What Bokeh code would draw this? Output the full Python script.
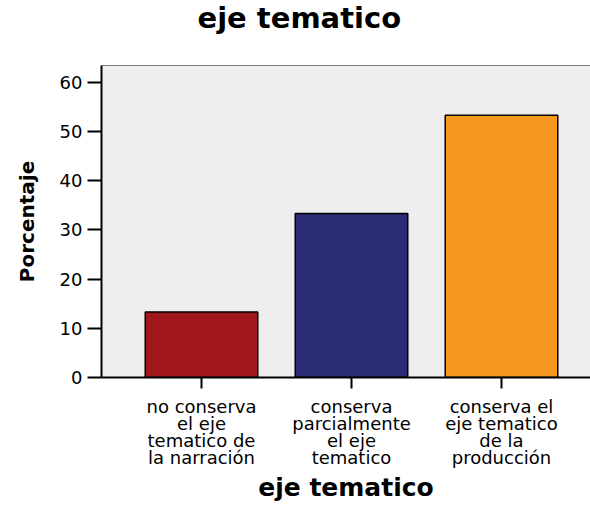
from bokeh.plotting import figure
from bokeh.models import FixedTicker, Range1d, Span
from bokeh.embed import file_html
from bokeh.resources import INLINE

# ---- data ----
categories = [
    "no conserva\nel eje\ntematico de\nla narración",
    "conserva\nparcialmente\nel eje\ntematico",
    "conserva el\neje tematico\nde la\nproducción",
]
percentages = [13.33, 33.33, 53.33]
bar_colors = ["#A1181C", "#2A2B73", "#F7981F"]
y_ticks = [0, 10, 20, 30, 40, 50, 60]
title_text = "eje tematico"
x_title = "eje tematico"
y_title = "Porcentaje"

FONT = "DejaVu Sans"

positions = list(range(1, len(categories) + 1))

# frame geometry (pixels) -> ranges
frame_w, frame_h = 489, 312
px_per_cat = 150.0
x_start = 1 - 100 / px_per_cat
x_end = x_start + frame_w / px_per_cat
y_end = 63.45

p = figure(
    width=590, height=505,
    x_range=Range1d(x_start, x_end), y_range=Range1d(0, y_end),
    output_backend="svg", toolbar_location=None, tools="",
    min_border_left=101, min_border_right=0, min_border_top=65, min_border_bottom=128,
)
p.background_fill_color = "#EEEEEE"
p.border_fill_color = "white"
p.outline_line_color = None
p.xgrid.visible = False
p.ygrid.visible = False

# title (an empty second line lifts it towards the top of the page)
p.title.text = title_text + "\n "
p.title.align = "left"
p.title.offset = 96
p.title.vertical_align = "top"
p.title.standoff = 0
p.title.text_line_height = 0.84
p.title.text_font = FONT
p.title.text_font_style = "bold"
p.title.text_font_size = "29px"
p.title.text_color = "black"

p.vbar(x=positions, top=percentages, width=0.75, fill_color=bar_colors,
       line_color="black", line_width=1.5)

# top border of the plot area
p.add_layout(Span(location=y_end, dimension="width", line_color="black", line_width=1))

# y axis
ya = p.yaxis[0]
ya.ticker = FixedTicker(ticks=y_ticks)
ya.axis_line_width = 2
ya.axis_line_color = "black"
ya.major_tick_line_width = 2
ya.major_tick_out = 14
ya.major_tick_in = 0
ya.minor_tick_line_color = None
ya.major_label_standoff = 5
ya.major_label_text_font = FONT
ya.major_label_text_font_size = "18px"
ya.major_label_text_color = "black"
ya.axis_label = y_title
ya.axis_label_standoff = 18
ya.axis_label_text_font = FONT
ya.axis_label_text_font_style = "bold"
ya.axis_label_text_font_size = "20px"
ya.axis_label_text_color = "black"

# x axis
xa = p.xaxis[0]
xa.ticker = FixedTicker(ticks=positions)
xa.major_label_overrides = {pos: lab for pos, lab in zip(positions, categories)}
xa.axis_line_width = 2
xa.axis_line_color = "black"
xa.major_tick_line_width = 2
xa.major_tick_out = 11
xa.major_tick_in = 0
xa.minor_tick_line_color = None
xa.major_label_standoff = 7
xa.major_label_text_font = FONT
xa.major_label_text_font_size = "18px"
xa.major_label_text_line_height = 0.82
xa.major_label_text_color = "black"
xa.axis_label = x_title
xa.axis_label_standoff = 2
xa.axis_label_text_font = FONT
xa.axis_label_text_font_style = "bold"
xa.axis_label_text_font_size = "25px"
xa.axis_label_text_color = "black"

open("out.html", "w").write(file_html(p, INLINE))
